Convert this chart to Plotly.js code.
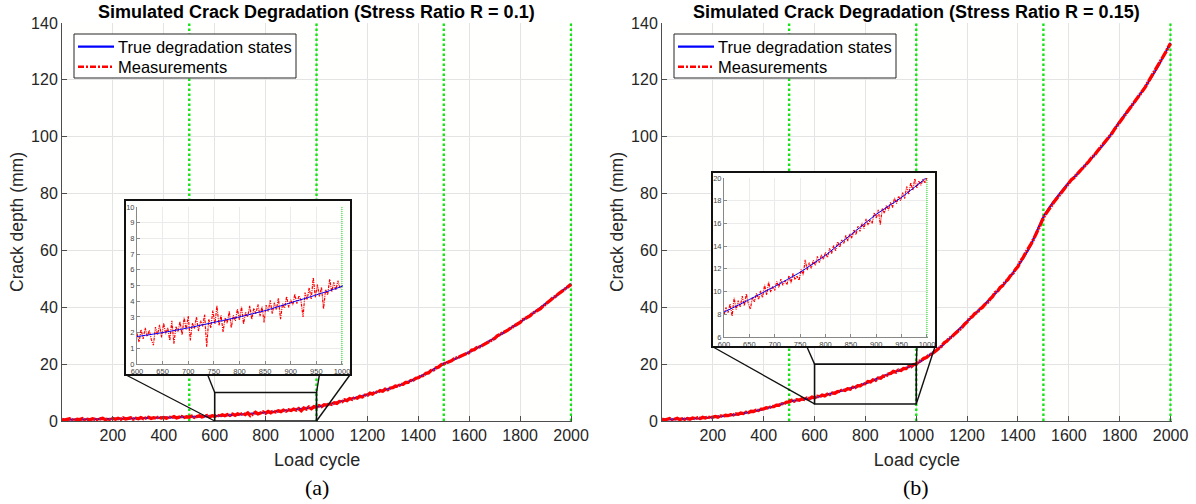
<!DOCTYPE html>
<html><head><meta charset="utf-8">
<script src="https://cdn.plot.ly/plotly-3.0.1.min.js"></script>
<style>html,body{margin:0;padding:0;background:#fff}#chart{width:1196px;height:504px}</style>
</head><body><div id="chart"></div>
<script>
// ---------------- DATA ----------------
const trueCycles = [0,50,100,150,200,250,300,350,400,450,500,550,600,650,700,750,800,850,900,950,1000,
  1050,1100,1150,1200,1250,1300,1350,1400,1450,1500,1550,1600,1650,1700,1750,1800,1850,1900,1950,2000];
const trueStatesR010 = [0.45,0.5,0.58,0.66,0.75,0.85,0.96,1.08,1.2,1.33,1.47,1.6,1.75,2.0,2.3,2.65,3.0,3.4,3.9,4.4,4.95,
  5.9,7.0,8.1,9.3,10.5,11.8,13.4,15.3,17.6,20.2,22.0,24.2,26.6,29.2,31.9,34.8,37.9,41.2,44.6,48.2];
const trueStatesR015 = [0.5,0.6,0.8,1.0,1.35,1.8,2.4,3.2,4.2,5.4,6.8,7.6,8.2,9.3,10.45,11.7,13.2,15.0,16.8,18.3,20.1,
  23.0,26.4,30.6,35.0,39.3,43.9,48.7,54.5,61.8,71.8,78.3,83.8,88.5,93.5,98.8,105.3,111.2,117.5,124.6,133.0];

// measurements every 10 cycles, 0..2000
const measStartMain = 0, measStepMain = 10;
const measR010 = [0.62,0.31,0.55,0.78,0.40,0.29,0.66,0.52,0.85,0.37,0.60,
  0.44,0.81,0.57,0.35,0.72,0.93,0.48,0.66,0.39,0.88,
  0.61,0.95,0.52,1.08,0.70,0.83,1.12,0.64,0.99,0.78,
  1.21,0.82,1.05,1.30,0.88,1.17,0.95,1.38,1.02,1.26,
  0.98,1.41,1.19,1.55,1.08,1.36,1.62,1.20,1.49,1.31,
  1.72,1.25,1.58,1.83,1.40,1.69,1.95,1.47,1.88,1.62,
  2.05,1.68,2.21,1.84,2.30,1.95,2.42,2.01,2.55,2.18,
  2.70,2.25,2.83,1.90,2.61,3.05,2.48,2.92,3.20,2.74,
  3.35,2.90,3.48,3.15,3.62,3.30,3.81,3.44,3.96,3.68,
  4.22,3.85,4.40,3.60,4.55,4.18,4.90,4.30,5.05,4.82,
  5.40,5.05,5.72,5.55,6.08,5.85,6.42,6.21,6.85,6.78,
  7.45,7.18,7.90,7.62,8.25,8.05,8.66,8.45,9.12,9.05,
  9.80,9.45,10.25,10.02,10.68,10.45,11.20,10.98,11.62,11.75,
  12.30,12.20,12.85,12.90,13.55,13.60,14.25,14.35,15.05,15.20,
  15.85,16.05,16.75,16.90,17.75,17.95,18.70,19.00,19.80,20.10,
  20.45,21.02,21.20,21.85,22.05,22.52,22.95,23.30,23.88,24.10,
  24.95,25.12,25.85,26.02,26.50,27.10,27.45,28.02,28.55,29.05,
  29.95,30.40,30.75,31.50,31.85,32.52,33.05,33.45,34.22,34.70,
  35.60,36.15,36.80,37.05,37.95,38.40,39.02,39.55,40.40,41.05,
  42.05,42.55,43.40,43.85,44.70,45.30,45.85,46.60,47.35,48.05];
const measR015 = [0.72,0.35,0.61,0.88,0.42,0.55,0.93,0.47,0.79,0.58,0.86,
  0.62,1.05,0.80,1.12,0.90,1.28,1.02,1.45,1.15,1.40,
  1.62,1.35,1.80,1.65,2.02,1.88,2.25,2.10,2.52,2.38,
  2.80,2.62,3.10,2.95,3.42,3.35,3.78,3.70,4.15,4.22,
  4.70,4.55,5.12,5.05,5.60,5.55,6.05,6.10,6.62,6.75,
  7.25,6.95,7.48,7.32,7.80,7.55,8.05,7.85,8.40,8.15,
  8.70,8.50,9.10,8.85,9.45,9.30,9.85,9.75,10.30,10.40,
  11.05,10.75,11.35,11.20,11.85,11.75,12.40,12.35,13.05,13.15,
  13.90,13.75,14.50,14.30,15.15,15.00,15.80,15.70,16.55,16.75,
  17.45,17.20,17.95,17.75,18.50,18.45,19.20,19.10,19.85,20.05,
  20.95,21.25,22.05,22.35,23.15,23.55,24.40,24.90,25.70,26.35,
  27.55,28.05,29.05,29.60,30.55,31.30,32.20,32.90,34.05,34.85,
  36.15,36.65,37.75,38.20,39.35,39.95,41.00,41.65,42.85,43.75,
  45.15,45.75,46.95,47.65,48.90,49.75,51.05,51.90,53.30,54.35,
  56.25,57.45,59.15,60.40,62.05,63.70,65.45,67.35,69.40,71.60,
  73.05,74.35,75.55,76.85,78.05,79.25,80.50,81.55,82.75,83.70,
  84.85,85.55,86.75,87.55,88.55,89.45,90.55,91.45,92.65,93.45,
  94.65,95.75,96.65,97.85,98.75,100.05,101.25,102.65,103.85,105.15,
  106.55,107.85,108.85,110.15,111.25,112.35,113.65,114.65,116.15,117.35,
  118.95,120.45,121.75,123.25,124.55,126.25,127.85,129.55,131.25,132.85];

// zoomed measurements every 4 cycles, 600..1000
const measStartZoom = 600, measStepZoom = 4;
const measZoomR010 = [1.95,1.40,2.20,1.60,2.30,1.75,2.15,1.55,1.20,2.35,
  1.85,2.50,1.70,2.60,1.90,2.30,1.50,2.75,1.30,2.40,
  2.05,2.70,1.85,2.95,2.20,3.05,1.50,2.60,2.25,3.00,
  2.10,2.75,2.40,3.15,1.10,2.85,2.30,3.40,2.55,3.70,
  2.45,3.10,2.05,2.95,2.60,3.35,2.30,3.10,2.75,3.50,
  2.80,3.65,2.55,3.30,3.00,3.70,2.85,3.55,3.20,3.80,
  3.05,3.65,2.65,3.75,3.35,4.05,3.20,3.90,3.45,4.20,
  2.85,3.85,3.55,4.30,3.60,4.10,3.75,4.45,3.85,4.35,
  4.05,3.00,4.55,4.10,4.85,4.15,5.50,4.25,5.05,4.30,
  4.90,3.50,4.75,4.40,5.40,4.60,5.20,4.70,5.30,4.85,
  5.00];
const measZoomR015 = [7.95,8.60,8.15,8.90,7.85,9.45,8.40,9.20,8.65,9.60,
  8.75,9.80,8.90,8.45,9.50,9.10,9.85,9.30,10.05,9.45,
  10.60,9.70,10.85,9.95,10.45,10.10,10.90,10.35,11.10,10.55,
  10.95,10.60,11.40,10.75,11.60,11.05,11.35,11.00,11.95,11.45,
  12.80,11.90,12.55,12.05,12.75,12.30,13.10,12.55,13.25,12.85,
  13.45,13.00,13.80,13.35,14.05,13.60,14.40,13.90,14.55,14.20,
  14.95,14.45,15.10,14.70,15.45,15.00,15.75,15.30,16.05,15.55,
  16.40,15.85,16.30,16.00,16.95,16.45,17.20,15.90,17.35,16.90,
  17.60,17.15,17.85,17.40,18.25,17.75,18.40,18.00,18.70,18.20,
  19.25,18.55,19.60,18.90,19.95,19.10,19.75,19.35,19.90,19.55,
  20.10];

const boundaryCycles = [500, 1000, 1500, 2000];
const mainXTicks = [200,400,600,800,1000,1200,1400,1600,1800,2000];
const mainYTicks = [0,20,40,60,80,100,120,140];
const zoomXTicks = [600,650,700,750,800,850,900,950,1000];
const zoomYTicksR010 = [0,1,2,3,4,5,6,7,8,9,10];
const zoomYTicksR015 = [6,8,10,12,14,16,18,20];
const zoomWindowR010 = {x:[600,1000], y:[0,10]};
const zoomWindowR015 = {x:[600,1000], y:[6,20]};
const titles = ['Simulated Crack Degradation (Stress Ratio R = 0.1)', 'Simulated Crack Degradation (Stress Ratio R = 0.15)'];
const captions = ['(a)', '(b)'];
const legendNames = ['True degradation states', 'Measurements'];

// ---------------- BUILD ----------------
const W = 1196, H = 504;
const FONT = 'Liberation Sans, Arial, Helvetica, sans-serif';
const fx = p => p / W, fy = p => 1 - p / H;
const cycles = (start, step, n) => Array.from({length: n}, (_, i) => start + i * step);
function vlines(xs, y0, y1) {
  const x = [], y = [];
  xs.forEach(v => { x.push(v, v, null); y.push(y0, y1, null); });
  return {x, y};
}

const GREEN = '#12e612', BLUE = '#0000ff', RED = '#ff0000';
const MEAS_DASH = '9px,1px,2px,1px';
const traces = [];
function mainTraces(xa, ya, trueY, measY, yTop) {
  const g = vlines(boundaryCycles, 0, yTop);
  traces.push({x: g.x, y: g.y, xaxis: xa, yaxis: ya, mode: 'lines', showlegend: false, hoverinfo: 'skip',
    line: {color: GREEN, width: 2.4, dash: '2.4px,2.6px'}});
  traces.push({x: trueCycles, y: trueY, xaxis: xa, yaxis: ya, mode: 'lines', name: legendNames[0], showlegend: false,
    line: {color: BLUE, width: 2, shape: 'spline', smoothing: 0.4}});
  traces.push({x: cycles(measStartMain, measStepMain, measY.length), y: measY, xaxis: xa, yaxis: ya, mode: 'lines',
    name: legendNames[1], showlegend: false, line: {color: RED, width: 3.3, dash: MEAS_DASH}});
}
function coverTrace(xa, ya) {
  traces.push({x: [], y: [], xaxis: xa, yaxis: ya, mode: 'lines', showlegend: false, hoverinfo: 'skip'});
}
function zoomTraces(xa, ya, trueY, measY, win) {
  const g = vlines(boundaryCycles, win.y[0], win.y[1]);
  traces.push({x: g.x, y: g.y, xaxis: xa, yaxis: ya, mode: 'lines', showlegend: false, hoverinfo: 'skip',
    line: {color: GREEN, width: 1, dash: '1px,1px'}});
  traces.push({x: cycles(measStartZoom, measStepZoom, measY.length), y: measY, xaxis: xa, yaxis: ya, mode: 'lines',
    showlegend: false, name: legendNames[1], line: {color: RED, width: 1.2, dash: '3px,1px,1px,1px'}});
  traces.push({x: trueCycles, y: trueY, xaxis: xa, yaxis: ya, mode: 'lines', showlegend: false, name: legendNames[0],
    line: {color: BLUE, width: 1, shape: 'spline', smoothing: 0.4}});
}

mainTraces('x', 'y', trueStatesR010, measR010, 140);
mainTraces('x2', 'y2', trueStatesR015, measR015, 140);
coverTrace('x3', 'y3');
coverTrace('x4', 'y4');
zoomTraces('x5', 'y5', trueStatesR010, measZoomR010, zoomWindowR010);
zoomTraces('x6', 'y6', trueStatesR015, measZoomR015, zoomWindowR015);

const AX = '#4d4d4d', GRID = '#e4e4e4', TXT = '#262626';
function mainX(dom, anchor) {
  return {domain: dom, anchor, range: [0, 2005], tickvals: mainXTicks, ticks: 'inside', ticklen: 5, tickcolor: AX,
    showline: true, linecolor: AX, linewidth: 1, showgrid: true, gridcolor: GRID, gridwidth: 1, zeroline: false,
    tickfont: {family: FONT, size: 16, color: TXT}, automargin: false, fixedrange: true,
    title: {text: 'Load cycle', font: {family: FONT, size: 18, color: TXT}, standoff: 10}};
}
function mainY(anchor) {
  return {domain: [fy(421), fy(23)], anchor, range: [0, 140], tickvals: mainYTicks, ticks: 'inside', ticklen: 5,
    tickcolor: AX, showline: true, linecolor: AX, linewidth: 1, showgrid: true, gridcolor: GRID, gridwidth: 1,
    zeroline: false, tickfont: {family: FONT, size: 16, color: TXT}, automargin: false, fixedrange: true,
    title: {text: 'Crack depth (mm)', font: {family: FONT, size: 17.5, color: TXT}, standoff: 2}};
}
function hidden(dom, anchor) {
  return {domain: dom, anchor, range: [0, 1], visible: false, fixedrange: true};
}
function zoomX(dom, anchor) {
  return {domain: dom, anchor, range: [600, 1002], tickvals: zoomXTicks, ticks: 'inside', ticklen: 3, tickcolor: '#888',
    showline: true, linecolor: '#888', linewidth: 1, showgrid: true, gridcolor: '#ebebeb', zeroline: false,
    tickfont: {family: FONT, size: 7.5, color: '#444'}, automargin: false, fixedrange: true};
}
function zoomY(dom, anchor, win, ticks) {
  return {domain: dom, anchor, range: win.y, tickvals: ticks, ticks: 'inside', ticklen: 3, tickcolor: '#888',
    showline: true, linecolor: '#888', linewidth: 1, showgrid: true, gridcolor: '#ebebeb', zeroline: false,
    tickfont: {family: FONT, size: 7.5, color: '#444'}, automargin: false, fixedrange: true};
}

const frameL = {x0: 125, x1: 351, y0: 200, y1: 375};
const frameR = {x0: 712, x1: 936, y0: 172, y1: 347};

const layout = {
  width: W, height: H, margin: {l: 0, r: 0, t: 0, b: 0, pad: 0},
  paper_bgcolor: '#ffffff', plot_bgcolor: '#fffffe',
  font: {family: FONT, color: TXT},
  xaxis: mainX([fx(62), fx(572.3)], 'y'),
  yaxis: mainY('x'),
  xaxis2: mainX([fx(662), fx(1171.8)], 'y2'),
  yaxis2: mainY('x2'),
  xaxis3: hidden([fx(frameL.x0), fx(frameL.x1)], 'y3'),
  yaxis3: hidden([fy(frameL.y1), fy(frameL.y0)], 'x3'),
  xaxis4: hidden([fx(frameR.x0), fx(frameR.x1)], 'y4'),
  yaxis4: hidden([fy(frameR.y1), fy(frameR.y0)], 'x4'),
  xaxis5: zoomX([fx(137), fx(343)], 'y5'),
  yaxis5: zoomY([fy(364), fy(207)], 'x5', zoomWindowR010, zoomYTicksR010),
  xaxis6: zoomX([fx(724), fx(928)], 'y6'),
  yaxis6: zoomY([fy(337), fy(178)], 'x6', zoomWindowR015, zoomYTicksR015),
  showlegend: false,
  annotations: [],
  shapes: []
};

// titles and captions
[[62, 571], [662, 1170]].forEach((p, i) => {
  const cx = fx((p[0] + p[1]) / 2);
  layout.annotations.push({text: '<b>' + titles[i] + '</b>', x: cx, y: fy(12), xref: 'paper', yref: 'paper',
    xanchor: 'center', yanchor: 'middle', showarrow: false, font: {family: FONT, size: 18, color: '#000'}});
  layout.annotations.push({text: captions[i], x: cx, y: fy(487), xref: 'paper', yref: 'paper',
    xanchor: 'center', yanchor: 'middle', showarrow: false, font: {family: 'Liberation Serif, Times New Roman, serif', size: 22, color: '#000'}});
});

// legend boxes (drawn as a key: box, line samples, labels)
function legendBox(left) {
  const top = 34, w = 222, h = 44;
  layout.shapes.push({type: 'rect', xref: 'paper', yref: 'paper', x0: fx(left), x1: fx(left + w), y0: fy(top + h), y1: fy(top),
    fillcolor: '#ffffff', line: {color: '#262626', width: 1}, layer: 'above'});
  const rows = [{color: BLUE, dash: 'solid', width: 2.2}, {color: RED, dash: '6px,2px,2px,2px', width: 2.4}];
  rows.forEach((r, i) => {
    const yc = top + 12.7 + i * 20;
    layout.shapes.push({type: 'line', xref: 'paper', yref: 'paper', x0: fx(left + 4), x1: fx(left + 40), y0: fy(yc), y1: fy(yc),
      line: {color: r.color, width: r.width, dash: r.dash}, layer: 'above'});
    layout.annotations.push({text: legendNames[i], x: fx(left + 42), y: fy(yc), xref: 'paper', yref: 'paper',
      xanchor: 'left', yanchor: 'middle', showarrow: false, font: {family: FONT, size: 16.5, color: '#000'}});
  });
}
legendBox(74);
legendBox(674);

// map data value to paper fraction for an axis
function toPaper(ax, v) {
  const d = ax.domain, r = ax.range;
  return d[0] + (v - r[0]) / (r[1] - r[0]) * (d[1] - d[0]);
}
function zoomDecor(frame, xa, ya, axX, axY, win, fracs) {
  layout.shapes.push({type: 'rect', xref: 'paper', yref: 'paper', x0: fx(frame.x0), x1: fx(frame.x1),
    y0: fy(frame.y1), y1: fy(frame.y0), line: {color: '#111', width: 2}, layer: 'above'});
  layout.shapes.push({type: 'rect', xref: xa, yref: ya, x0: win.x[0], x1: win.x[1], y0: win.y[0], y1: win.y[1],
    line: {color: '#111', width: 1.6}, layer: 'above'});
  const bottom = fy(frame.y1);
  const fxp = f => fx(frame.x0 + f * (frame.x1 - frame.x0));
  const corners = [[win.x[0], win.y[0]], [win.x[0], win.y[1]], [win.x[1], win.y[1]], [win.x[1], win.y[0]]];
  corners.forEach((c, i) => {
    layout.shapes.push({type: 'line', xref: 'paper', yref: 'paper', x0: fxp(fracs[i]), y0: bottom,
      x1: toPaper(axX, c[0]), y1: toPaper(axY, c[1]), line: {color: '#111', width: 1.4}, layer: 'above'});
  });
}
zoomDecor(frameL, 'x', 'y', layout.xaxis, layout.yaxis, zoomWindowR010, [0.005, 0.366, 0.86, 0.995]);
zoomDecor(frameR, 'x2', 'y2', layout.xaxis2, layout.yaxis2, zoomWindowR015, [0.005, 0.424, 0.915, 0.995]);

Plotly.newPlot('chart', traces, layout, {staticPlot: true, displayModeBar: false});
</script>
</body></html>
